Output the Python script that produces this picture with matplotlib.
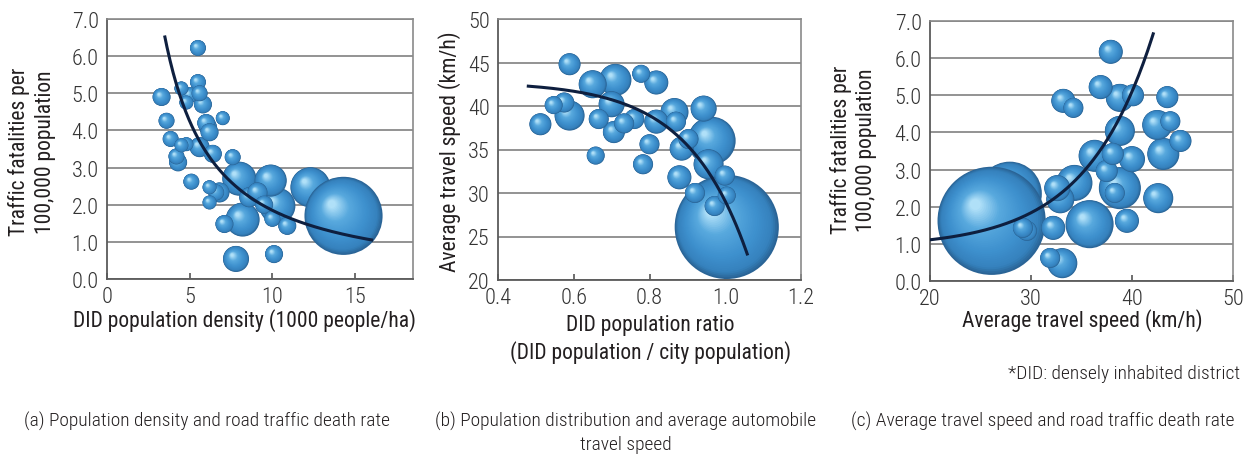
import numpy as np
import matplotlib
matplotlib.use("Agg")
import matplotlib.pyplot as plt
from matplotlib.path import Path
from matplotlib.collections import PathCollection
from matplotlib.transforms import IdentityTransform

plt.rcParams['font.family'] = ['Roboto Condensed', 'Roboto', 'DejaVu Sans']
plt.rcParams['font.weight'] = 'light'

# (a) DID population density vs traffic fatalities
dens_a = [5.5, 3.3, 3.6, 4.5, 5.5, 5.6, 4.8, 5.8, 7.0, 6.0, 6.2, 3.85, 4.5, 5.6, 6.4, 4.2,
          4.3, 7.6, 5.1, 6.2, 6.8, 6.2, 8.0, 9.9, 12.3, 10.3, 9.1, 8.2, 7.1, 10.0, 10.9,
          14.3, 7.8, 10.1, 6.6, 4.8, 6.1, 5.0, 8.6, 9.5]
fat_a = [6.22, 4.9, 4.26, 5.13, 5.3, 5.0, 4.75, 4.7, 4.33, 4.2, 3.95, 3.77, 3.6, 3.55, 3.37, 3.3,
         3.14, 3.28, 2.62, 2.47, 2.33, 2.06, 2.7, 2.65, 2.47, 1.97, 2.33, 1.6, 1.48, 1.62, 1.43,
         1.7, 0.54, 0.67, 2.33, 3.63, 4.1, 4.95, 2.2, 2.0]
pop_a = [128, 162, 128, 98, 128, 128, 98, 162, 98, 162, 162, 128, 98, 200, 162, 128,
         162, 128, 128, 98, 200, 98, 578, 512, 800, 648, 200, 578, 162, 128, 162,
         3042, 338, 162, 128, 98, 162, 128, 200, 162]

# (b) DID population ratio vs average travel speed
ratio_b = [0.589, 0.512, 0.547, 0.589, 0.575, 0.65, 0.71, 0.70, 0.666, 0.658, 0.706, 0.733,
           0.76, 0.778, 0.818, 0.783, 0.80, 0.818, 0.866, 0.943, 0.964, 0.885, 0.879, 0.956,
           0.999, 1.004, 0.972, 1.004, 0.903, 0.87, 0.92]
speed_b = [44.8, 37.9, 40.1, 38.9, 40.4, 42.5, 43.0, 40.2, 38.5, 34.3, 37.0, 38.0,
           38.5, 43.7, 42.7, 33.3, 35.6, 38.2, 39.3, 39.7, 36.0, 35.1, 31.8, 33.3,
           32.0, 29.7, 28.5, 26.1, 36.2, 38.2, 30.0]
pop_b = [242, 242, 162, 450, 200, 392, 512, 338, 200, 162, 242, 200,
         200, 162, 288, 200, 200, 288, 392, 338, 1152, 288, 288, 450,
         200, 162, 200, 5408, 200, 200, 200]

# (c) average travel speed vs traffic fatalities
speed_c = [26.1, 27.9, 37.9, 33.2, 34.2, 36.9, 38.8, 40.1, 43.5, 42.5, 43.8, 38.8, 44.8,
           43.1, 36.3, 38.1, 40.0, 37.5, 38.8, 38.3, 34.3, 42.6, 32.9, 35.8, 39.5, 32.2,
           33.1, 31.9, 29.6, 29.2, 32.6]
fat_c = [1.62, 2.35, 6.17, 4.85, 4.66, 5.22, 4.93, 5.0, 4.95, 4.2, 4.3, 4.04, 3.77,
         3.42, 3.37, 3.42, 3.28, 2.96, 2.5, 2.37, 2.64, 2.23, 2.2, 1.53, 1.62, 1.43,
         0.48, 0.62, 1.35, 1.43, 2.5]
pop_c = [5832, 2048, 288, 288, 200, 288, 392, 242, 242, 450, 200, 450, 242,
         512, 512, 242, 338, 242, 882, 200, 648, 450, 392, 1152, 288, 288,
         450, 200, 200, 200, 338]

# trend lines
coef_a = (29.3, -1.2)            # y = a * x**b
range_a = (3.5, 16.0)
coef_b = (42.8, 0.02524, 6.3)    # y = a - b*exp(c*x)
range_b = (0.48, 1.058)
coef_c = (0.9, 0.01041, 0.15)    # y = a + b*exp(c*x)
range_c = (20.0, 42.1)

# shaded sphere: stacked circles shifting toward the highlight
stops = [0.0, 0.1, 0.35, 0.7, 1.0]
stop_cols = np.array([[0x2a, 0x64, 0x96], [0x35, 0x81, 0xbd], [0x3e, 0x91, 0xce],
                      [0x58, 0xa9, 0xde], [0xb0, 0xe0, 0xf8]]) / 255.0
nl = 36
layer_paths = []
layer_cols = []
for i in range(nl):
    t = i / (nl - 1)
    r = 1 - 0.9 * t
    layer_paths.append(Path.circle(center=(-0.15 * t, 0.15 * t), radius=0.5 * r))
    layer_cols.append([np.interp(t, stops, stop_cols[:, k]) for k in range(3)])


def bubbles(ax, x, y, pop, k=1.04):
    order = list(np.argsort(pop)[::-1])
    # the biggest city sits in front of the second biggest
    order[0], order[1] = order[1], order[0]
    for i in order:
        pc = PathCollection(layer_paths, sizes=[pop[i] * k], offsets=[(x[i], y[i])] * nl,
                            offset_transform=ax.transData, facecolors=layer_cols,
                            linewidths=0, zorder=3)
        pc.set_transform(IdentityTransform())
        ax.add_collection(pc, autolim=False)


def style(ax, xlim, ylim, xt, yt, xfmt, yfmt):
    ax.set_xlim(xlim)
    ax.set_ylim(ylim)
    ax.set_xticks(xt)
    ax.set_xticklabels([xfmt % v for v in xt])
    ax.set_yticks(yt)
    ax.set_yticklabels([yfmt % v for v in yt])
    ax.yaxis.grid(True, color='#8a8a8a', lw=1.3)
    ax.set_axisbelow(True)
    ax.tick_params(axis='x', direction='in', length=4, width=1.2, color='#555555',
                   pad=5, labelsize=16, labelcolor='#333333')
    ax.tick_params(axis='y', length=0, pad=6, labelsize=16, labelcolor='#333333')
    for s in ['left', 'bottom']:
        ax.spines[s].set_color('#5a5a5a')
        ax.spines[s].set_linewidth(1.3)
    for s in ['top', 'right']:
        ax.spines[s].set_color('#8a8a8a')
        ax.spines[s].set_linewidth(1.2)


W, H = 1253, 456
fig = plt.figure(figsize=(12.53, 4.56), dpi=100)


def box(l, r, t, b):
    return [l / W, 1 - b / H, (r - l) / W, (b - t) / H]


ax1 = fig.add_axes(box(107, 413, 20, 280))
ax2 = fig.add_axes(box(498, 801, 20, 281))
ax3 = fig.add_axes(box(930, 1233, 22, 282))

line_col = '#0e1f3f'

bubbles(ax1, dens_a, fat_a, pop_a)
xa = np.linspace(range_a[0], range_a[1], 200)
ax1.plot(xa, coef_a[0] * xa ** coef_a[1], color=line_col, lw=2.2, zorder=5)
style(ax1, (0, 18.5), (0, 7), [0, 5, 10, 15], np.arange(0, 7.5, 1.0), '%d', '%.1f')

bubbles(ax2, ratio_b, speed_b, pop_b)
xb = np.linspace(range_b[0], range_b[1], 200)
ax2.plot(xb, coef_b[0] - coef_b[1] * np.exp(coef_b[2] * xb), color=line_col, lw=2.2, zorder=5)
style(ax2, (0.4, 1.2), (20, 50), [0.4, 0.6, 0.8, 1.0, 1.2], np.arange(20, 51, 5), '%.1f', '%d')

bubbles(ax3, speed_c, fat_c, pop_c)
xc = np.linspace(range_c[0], range_c[1], 200)
ax3.plot(xc, coef_c[0] + coef_c[1] * np.exp(coef_c[2] * xc), color=line_col, lw=2.2, zorder=5)
style(ax3, (20, 50), (0, 7), [20, 30, 40, 50], np.arange(0, 7.5, 1.0), '%d', '%.1f')

tc = '#231f20'
fs = 15.5
cs = 14


def ftext(x, y, s, **kw):
    fig.text(x / W, 1 - y / H, s, color=tc, **kw)


ftext(32, 152, 'Traffic fatalities per\n100,000 population', rotation=90, ha='center',
      va='center', fontsize=fs, linespacing=1.25, fontweight='normal')
ftext(450, 152, 'Average travel speed (km/h)', rotation=90, ha='center', va='center',
      fontsize=fs, fontweight='normal')
ftext(853, 150, 'Traffic fatalities per\n100,000 population', rotation=90, ha='center',
      va='center', fontsize=fs, linespacing=1.25, fontweight='normal')

ftext(245, 321, 'DID population density (1000 people/ha)', ha='center', va='center',
      fontsize=fs, fontweight='normal')
ftext(650, 325, 'DID population ratio', ha='center', va='center', fontsize=fs, fontweight='normal')
ftext(651, 353, '(DID population / city population)', ha='center', va='center',
      fontsize=fs, fontweight='normal')
ftext(1082, 321, 'Average travel speed (km/h)', ha='center', va='center', fontsize=fs,
      fontweight='normal')

ftext(1240, 374, '*DID: densely inhabited district', ha='right', va='center', fontsize=cs)
ftext(207, 421, '(a) Population density and road traffic death rate', ha='center',
      va='center', fontsize=cs)
ftext(626, 421, '(b) Population distribution and average automobile', ha='center',
      va='center', fontsize=cs)
ftext(626, 445, 'travel speed', ha='center', va='center', fontsize=cs)
ftext(1043, 421, '(c) Average travel speed and road traffic death rate', ha='center',
      va='center', fontsize=cs)

fig.savefig('out.png', dpi=100)
